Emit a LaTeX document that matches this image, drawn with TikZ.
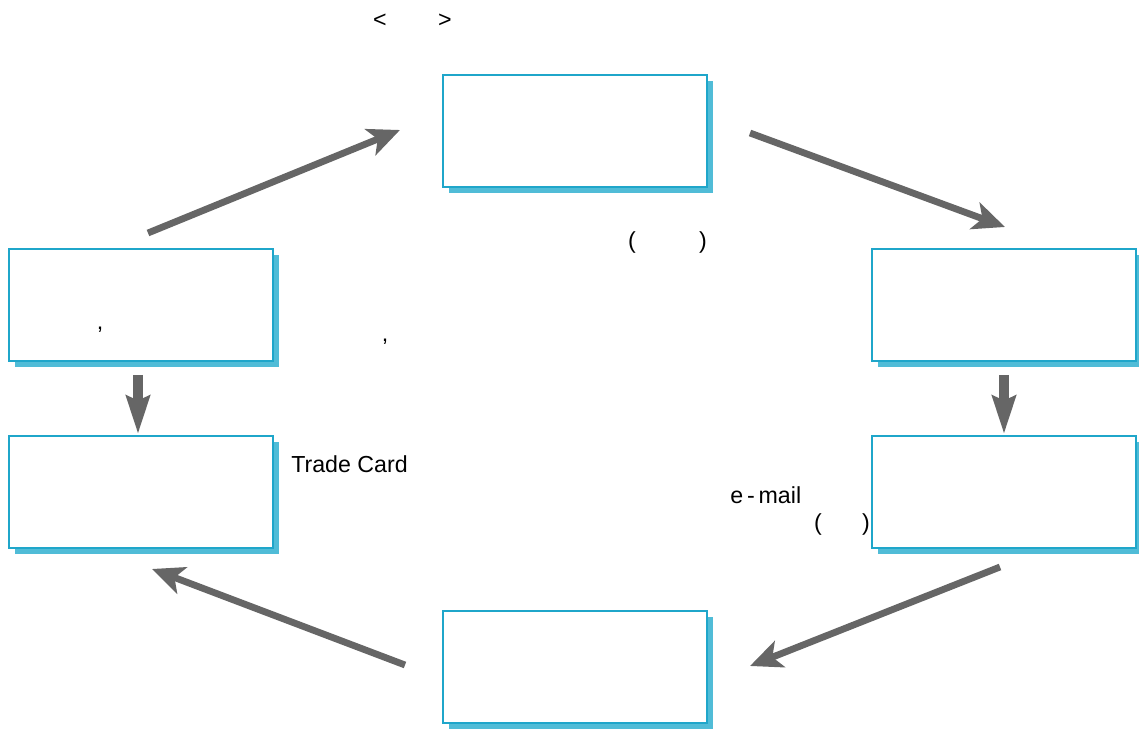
\documentclass[tikz,border=0pt]{standalone}
\usepackage{fontspec}
\setmainfont{Liberation Sans}
\usepackage{tikz}
\usetikzlibrary{arrows.meta,shadows}

\definecolor{boxline}{HTML}{1FA6CA}
\definecolor{boxshadow}{HTML}{50BCD7}
\definecolor{arrowgray}{HTML}{666666}

\tikzset{
    stagebox/.style={draw=boxline, line width=0.8pt, fill=white,
        minimum width=6.6cm, minimum height=2.8cm,
        drop shadow={shadow xshift=0.15cm, shadow yshift=-0.15cm, fill=boxshadow, opacity=1}},
    flowarrow/.style={draw=arrowgray, line width=0.17cm,
        -{Stealth[length=0.8cm, width=0.7cm, inset=0.2cm]}},
    downarrow/.style={draw=arrowgray, line width=0.24cm,
        -{Stealth[length=0.95cm, width=0.58cm, inset=0.12cm]}},
    label/.style={font=\fontsize{16.5}{19}\selectfont, inner sep=0pt}
}

\begin{document}
\begin{tikzpicture}

        \useasboundingbox (0,0) rectangle (28.475,-18.225);

        % Title
        \node[label] (lt) at (9.5,-0.525) {<};
        \node[label] (gt) at (11.125,-0.525) {>};

        % Boxes
        \node[stagebox] (top) at (14.375,-3.275) {};
        \node[stagebox] (leftA) at (3.525,-7.625) {};
        \node[stagebox] (leftB) at (3.525,-12.3) {};
        \node[stagebox] (rightA) at (25.1,-7.625) {};
        \node[stagebox] (rightB) at (25.1,-12.3) {};
        \node[stagebox] (bottom) at (14.375,-16.675) {};

        % Texts
        \node[label] (commaA) at (2.5,-8.25) {,};
        \node[label] (commaB) at (9.625,-8.55) {,};
        \node[label] (parTopL) at (15.8,-6.075) {(};
        \node[label] (parTopR) at (17.575,-6.075) {)};
        \node[label, anchor=west] (card) at (7.275,-11.6) {Trade Card};
        \node[label, anchor=west] (mail) at (18.25,-12.375) {e\,-\,mail};
        \node[label] (parMailL) at (20.45,-13.1) {(};
        \node[label] (parMailR) at (21.65,-13.1) {)};

        % Arrow ends
        \coordinate (upS) at (3.7,-5.825);
        \coordinate (upE) at (10,-3.25);
        \coordinate (rightS) at (18.75,-3.325);
        \coordinate (rightE) at (25.125,-5.675);
        \coordinate (downLS) at (3.45,-9.375);
        \coordinate (downLE) at (3.45,-10.85);
        \coordinate (downRS) at (25.1,-9.375);
        \coordinate (downRE) at (25.1,-10.85);
        \coordinate (backRS) at (25,-14.175);
        \coordinate (backRE) at (18.75,-16.65);
        \coordinate (backLS) at (10.125,-16.625);
        \coordinate (backLE) at (3.8,-14.225);

        % Arrows
        \draw[flowarrow] (upS) -- (upE);
        \draw[flowarrow] (rightS) -- (rightE);
        \draw[downarrow] (downLS) -- (downLE);
        \draw[downarrow] (downRS) -- (downRE);
        \draw[flowarrow] (backRS) -- (backRE);
        \draw[flowarrow] (backLS) -- (backLE);

\end{tikzpicture}
\end{document}
